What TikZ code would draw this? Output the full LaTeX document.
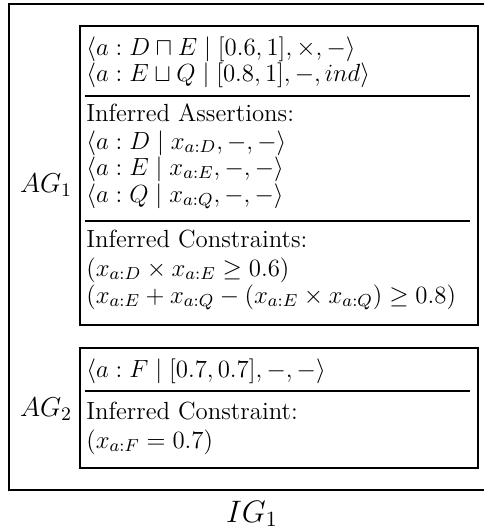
\RequirePackage{fix-cm}
\documentclass[tikz,border=0pt]{standalone}
\usepackage{amsmath,amssymb}
\newlength\ctw
\begin{document}
\settowidth{\ctw}{\fontsize{10}{12}\selectfont$(x_{a:E} + x_{a:Q} - (x_{a:E} \times x_{a:Q}) \geq 0.8)$}
\pgfmathsetmacro\fs{10*192/\ctw}
\pgfmathsetmacro\fsmid{1.1*\fs}
\pgfmathsetmacro\fsbig{1.25*\fs}
\begin{tikzpicture}[x=0.5pt,y=-0.5pt,
  outerbox/.style={line width=0.7pt},
  innerbox/.style={line width=1pt},
  sepline/.style={line width=0.9pt},
  txt/.style={anchor=base west, inner sep=0pt, font=\fontsize{\fs}{\fs}\selectfont},
  lbl/.style={anchor=base, inner sep=0pt, font=\fontsize{\fsmid}{\fsmid}\selectfont},
  biglbl/.style={anchor=base, inner sep=0pt, font=\fontsize{\fsbig}{\fsbig}\selectfont}]
\useasboundingbox (0,0) rectangle (484,532);
\clip (0,0) rectangle (484,532);
% outer box (right edge outside the picture)
\draw[outerbox] (9,4) rectangle (492,490);
% AG1 box
\draw[innerbox] (80,26) rectangle (478,325);
\draw[sepline] (85,96) -- (470,96);
\draw[sepline] (85,221) -- (470,221);
% AG2 box
\draw[innerbox] (80,348) rectangle (478,468);
\draw[sepline] (85,391) -- (470,391);
% AG1 content
\node[txt] (l1) at (86,55) {$\langle a : D \sqcap E \mid [0.6,1], \times, - \rangle$};
\node[txt] (l2) at (86,81) {$\langle a : E \sqcup Q \mid [0.8,1], -, ind \rangle$};
\node[txt] (ia) at (86,121) {Inferred Assertions:};
\node[txt] (ad) at (86,149) {$\langle a : D \mid x_{a:D}, -, - \rangle$};
\node[txt] (ae) at (86,175) {$\langle a : E \mid x_{a:E}, -, - \rangle$};
\node[txt] (aq) at (86,202) {$\langle a : Q \mid x_{a:Q}, -, - \rangle$};
\node[txt] (ic) at (86,247) {Inferred Constraints:};
\node[txt] (c1) at (86,276) {$(x_{a:D} \times x_{a:E} \geq 0.6)$};
\node[txt] (c2) at (86,303) {$(x_{a:E} + x_{a:Q} - (x_{a:E} \times x_{a:Q}) \geq 0.8)$};
% AG2 content
\node[txt] (f1) at (86,377) {$\langle a : F \mid [0.7,0.7], -, - \rangle$};
\node[txt] (ic2) at (86,419) {Inferred Constraint:};
\node[txt] (cf) at (86,448) {$(x_{a:F} = 0.7)$};
% labels
\node[lbl] (ag1) at (46,192) {$AG_1$};
\node[lbl] (ag2) at (46,416) {$AG_2$};
\node[biglbl] (ig1) at (252,522) {$IG_1$};
\end{tikzpicture}
\end{document}
